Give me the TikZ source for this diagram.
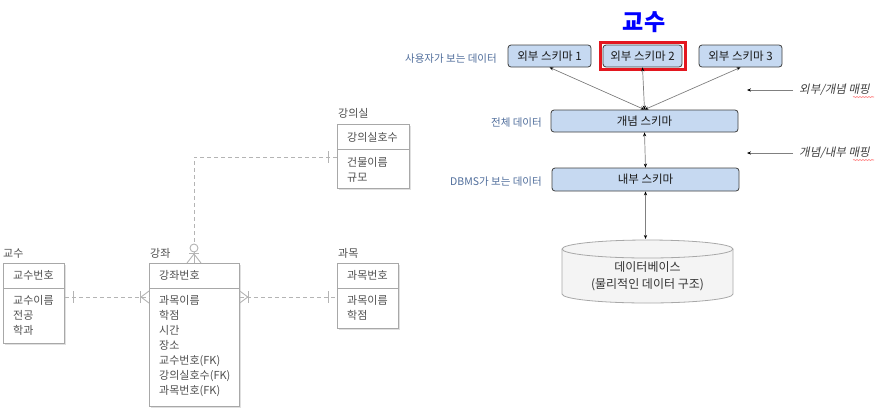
\documentclass[tikz,border=0pt]{standalone}
\usepackage{fontspec}
\setmainfont{Noto Sans CJK KR}
\newfontfamily\kit{Noto Sans CJK KR}[FakeSlant=0.2]
\usetikzlibrary{arrows.meta,calc,shadows,decorations.pathmorphing}
\definecolor{ertext}{HTML}{505050}
\definecolor{erline}{HTML}{B4B4B4}
\definecolor{erborder}{HTML}{A8A8A8}
\definecolor{schfill}{HTML}{C6D9F1}
\definecolor{schborder}{HTML}{404040}
\definecolor{lblblue}{HTML}{4F6D9B}
\definecolor{cylfill}{HTML}{F4F4F4}
\definecolor{cylline}{HTML}{A8A8A8}
\definecolor{framered}{HTML}{E3171F}
\tikzset{
  erbox/.style={draw=erborder, fill=white, line width=0.8pt, anchor=north west, inner sep=0pt,
    drop shadow={shadow xshift=1.5pt, shadow yshift=-1.5pt, opacity=0.3, fill=black!40}},
  ertxt/.style={anchor=base west, inner sep=0pt, text=ertext, font=\fontsize{11}{13}\selectfont},
  erconn/.style={draw=erline, line width=0.9pt, dash pattern=on 4pt off 3pt},
  ersym/.style={draw=erline, line width=0.9pt},
  schbox/.style={draw=schborder, fill=schfill, rounded corners=3pt, line width=0.8pt,
    inner sep=0pt, font=\fontsize{11.5}{13}\selectfont, text=black!90},
  lbl/.style={anchor=east, inner sep=0pt, text=lblblue, font=\fontsize{10.5}{12}\selectfont},
  sarrow/.style={draw=black!50, line width=0.7pt,
    {Stealth[length=4pt,width=3.2pt,black]}-{Stealth[length=4pt,width=3.2pt,black]}},
  maparrow/.style={draw=black!50, line width=0.7pt, -{Stealth[length=4pt,width=3.2pt,black]}},
  maptxt/.style={anchor=west, inner sep=0pt, text=black!75, font=\fontsize{11.5}{13}\selectfont\kit},
}
\begin{document}
\begin{tikzpicture}[x=1pt,y=-1pt]
\useasboundingbox (0,0) rectangle (882,416);

% ================= ER diagram =================
% entity boxes
\node[erbox, minimum width=61pt, minimum height=80pt] (gyosu) at (3,263) {};
\node[erbox, minimum width=90pt, minimum height=143pt] (gangjwa) at (149,263) {};
\node[erbox, minimum width=61pt, minimum height=65pt] (gwamok) at (337,263) {};
\node[erbox, minimum width=72pt, minimum height=64pt] (room) at (337,124) {};

% dividers
\draw[draw=erborder, line width=0.8pt] (gyosu.west |- 0,288) -- (gyosu.east |- 0,288);
\draw[draw=erborder, line width=0.8pt] (gangjwa.west |- 0,288) -- (gangjwa.east |- 0,288);
\draw[draw=erborder, line width=0.8pt] (gwamok.west |- 0,288) -- (gwamok.east |- 0,288);
\draw[draw=erborder, line width=0.8pt] (room.west |- 0,149) -- (room.east |- 0,149);

% entity names
\node[ertxt] (lgyosu) at (3,257) {교수};
\node[ertxt] (lgangjwa) at (150,257) {강좌};
\node[ertxt] (lgwamok) at (338,257) {과목};
\node[ertxt] (lroom) at (338,117) {강의실};

% headers
\node[ertxt] (hgyosu) at (13,279) {교수번호};
\node[ertxt] (hgangjwa) at (159,279) {강좌번호};
\node[ertxt] (hgwamok) at (347,279) {과목번호};
\node[ertxt] (hroom) at (347,141) {강의실호수};

% attributes
\foreach \t [count=\i] in {교수이름,전공,학과}
  \node[ertxt] (ag\i) at (13,{289+15*\i}) {\t};
\foreach \t [count=\i] in {과목이름,학점,시간,장소,교수번호(FK),강의실호수(FK),과목번호(FK)}
  \node[ertxt] (aj\i) at (159,{289+15*\i}) {\t};
\foreach \t [count=\i] in {과목이름,학점}
  \node[ertxt] (am\i) at (347,{289+15*\i}) {\t};
\foreach \t [count=\i] in {건물이름,규모}
  \node[ertxt] (ar\i) at (347,{151+15*\i}) {\t};

% relationship 교수 - 강좌
\coordinate (r1a) at (gyosu.east |- 0,297);
\coordinate (r1b) at (gangjwa.west |- 0,297);
\draw[erconn] (r1a) -- (r1b);
\draw[ersym] ($(r1a)+(9,-6)$) -- ($(r1a)+(9,6)$);
\draw[ersym] ($(r1b)+(-9,-6)$) -- ($(r1b)+(-9,6)$);
\draw[ersym] ($(r1b)+(0,-6)$) -- ($(r1b)+(-8,0)$) -- ($(r1b)+(0,6)$);

% relationship 강좌 - 과목
\coordinate (r2a) at (gangjwa.east |- 0,297);
\coordinate (r2b) at (gwamok.west |- 0,297);
\draw[erconn] (r2a) -- (r2b);
\draw[ersym] ($(r2a)+(9,-6)$) -- ($(r2a)+(9,6)$);
\draw[ersym] ($(r2a)+(0,-6)$) -- ($(r2a)+(8,0)$) -- ($(r2a)+(0,6)$);
\draw[ersym] ($(r2b)+(-9,-6)$) -- ($(r2b)+(-9,6)$);

% relationship 강의실 - 강좌
\coordinate (r3a) at (room.west |- 0,157);
\coordinate (r3b) at (194,263);
\draw[erconn] (r3a) -- (194,157) -- (r3b);
\draw[ersym] ($(r3a)+(-9,-6)$) -- ($(r3a)+(-9,6)$);
\draw[ersym] ($(r3b)+(-7,0)$) -- ($(r3b)+(0,-9)$) -- ($(r3b)+(7,0)$);
\draw[ersym] ($(r3b)+(0,-9)$) -- (r3b);
\draw[ersym] ($(r3b)+(-5,-10)$) -- ($(r3b)+(5,-10)$);
\draw[ersym, fill=white] ($(r3b)+(0,-15)$) circle[radius=4pt];

% ================= schema diagram =================
\node[font=\fontsize{23}{23}\selectfont\bfseries, text=blue, inner sep=0pt] (title) at (644,22) {교수};

\node[schbox, minimum width=83pt, minimum height=22pt] (ext1) at (549.5,56) {외부 스키마 1};
\node[schbox, minimum width=79pt, minimum height=22pt] (ext2) at (642.5,56) {외부 스키마 2};
\node[schbox, minimum width=83pt, minimum height=22pt] (ext3) at (740.5,56) {외부 스키마 3};
\draw[framered, line width=3.2pt] (600.5,42.5) rectangle (685.5,69.5);

\node[schbox, minimum width=187pt, minimum height=22pt] (concept) at (644.5,121) {개념 스키마};
\node[schbox, minimum width=187pt, minimum height=23pt] (internal) at (645.5,179.5) {내부 스키마};

\node[lbl] (l1) at (497,59) {사용자가 보는 데이터};
\node[lbl] (l2) at (542,123) {전체 데이터};
\node[lbl] (l3) at (542,182) {DBMS가 보는 데이터};

% cylinder
\draw[draw=cylline, fill=cylfill, line width=0.8pt]
  (562,249) -- (562,294) arc[start angle=180, end angle=360, x radius=85.5pt, y radius=9pt]
  -- (733,249) arc[start angle=0, end angle=180, x radius=85.5pt, y radius=9pt] -- cycle;
\draw[draw=cylline, line width=0.8pt]
  (562,249) arc[start angle=180, end angle=360, x radius=85.5pt, y radius=9pt];
\node[align=center, inner sep=0pt, text=black!80, font=\fontsize{12}{17}\selectfont] (db) at (647.5,276.5)
  {데이터베이스\\(물리적인 데이터 구조)};
\coordinate (dbtop) at (645.5,239);

% arrows
\draw[sarrow] (concept.north) -- (ext1.south);
\draw[sarrow] (concept.north) -- (ext2.south);
\draw[sarrow] (concept.north) -- (ext3.south);
\draw[sarrow] (concept.south) -- (internal.north);
\draw[sarrow] (internal.south) -- (dbtop);

% mapping labels
\node[maptxt] (m1) at (799,90) {외부/개념 매핑};
\node[maptxt] (m2) at (799,153) {개념/내부 매핑};
\coordinate (m1tip) at (747,90);
\coordinate (m2tip) at (747,153);
\draw[maparrow, shorten <=6pt] (m1.west) -- (m1tip);
\draw[maparrow, shorten <=6pt] (m2.west) -- (m2tip);
\draw[red!55, line width=0.6pt, decorate, decoration={snake, amplitude=0.5pt, segment length=3pt}]
  (853,97) -- (874,97);
\draw[red!55, line width=0.6pt, decorate, decoration={snake, amplitude=0.5pt, segment length=3pt}]
  (853,160) -- (874,160);
\end{tikzpicture}
\end{document}
